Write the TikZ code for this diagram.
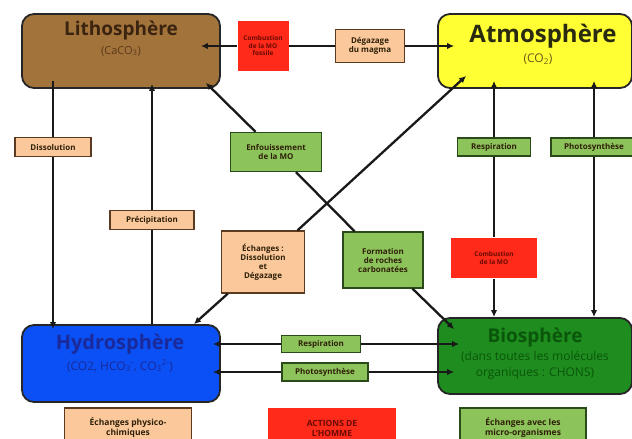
\documentclass[tikz,border=0pt]{standalone}
\usepackage{fontspec}
\setmainfont{Open Sans}
\usetikzlibrary{calc,arrows.meta}

\definecolor{lithofill}{HTML}{A3733C}
\definecolor{lithotext}{HTML}{3A2410}
\definecolor{lithosub}{HTML}{5A3A18}
\definecolor{atmofill}{HTML}{FFFF33}
\definecolor{atmotext}{HTML}{2A2A10}
\definecolor{atmosub}{HTML}{6A5A18}
\definecolor{hydrofill}{HTML}{0A50F5}
\definecolor{hydrotext}{HTML}{1A2A9A}
\definecolor{biofill}{HTML}{1E8C1E}
\definecolor{biotext}{HTML}{0A560A}
\definecolor{redfill}{HTML}{FF2A1A}
\definecolor{redtext}{HTML}{6A0A00}
\definecolor{orangefill}{HTML}{FBC89C}
\definecolor{orangeline}{HTML}{5A3A20}
\definecolor{greenfill}{HTML}{8DC35B}
\definecolor{greenline}{HTML}{2A4A1A}
\definecolor{lbltext}{HTML}{2E2008}

\tikzset{
  sphere/.style={draw=black!85, line width=1.8pt, rounded corners=12pt,
    minimum width=198pt, minimum height=74pt, inner sep=0pt},
  lbl/.style={line width=1.3pt, align=center, inner sep=1pt, text=lbltext,
    font=\fontsize{8}{9}\selectfont\bfseries},
  orangelbl/.style={lbl, fill=orangefill, draw=orangeline},
  greenlbl/.style={lbl, fill=greenfill, draw=greenline},
  redlbl/.style={lbl, fill=redfill, text=redtext,
    font=\fontsize{6.5}{7.5}\selectfont\bfseries},
  bottomtxt/.style={font=\fontsize{8.5}{10}\selectfont\bfseries},
  flux/.style={line width=2.3pt, draw=black!90},
  arr/.style={-{Latex[length=7pt,width=6.5pt]}}
}

\begin{document}
\begin{tikzpicture}[x=1pt,y=-1pt]
\useasboundingbox (0,0) rectangle (632,439);
\clip (0,0) rectangle (632,439);

% reservoirs
\node [sphere, fill=lithofill] (litho) at (121,51) {};
\node [sphere, fill=atmofill, minimum width=194pt] (atmo) at (535,51) {};
\node [sphere, fill=hydrofill, minimum height=77pt] (hydro) at (121,363.5) {};
\node [sphere, fill=biofill, minimum width=194pt, minimum height=76pt] (bio) at (535,356) {};

\node [font=\fontsize{19}{21}\selectfont\bfseries, text=lithotext] (lithoT) at (121,31) {Lithosphère};
\node [font=\fontsize{11}{12}\selectfont, text=lithosub] (lithoS) at (121,51) {(CaCO\textsubscript{3})};
\node [font=\fontsize{24}{26}\selectfont\bfseries, text=atmotext] (atmoT) at (543,36) {Atmosphère};
\node [font=\fontsize{12}{13}\selectfont, text=atmosub] (atmoS) at (538,59) {(CO\textsubscript{2})};
\node [font=\fontsize{20}{22}\selectfont\bfseries, text=hydrotext] (hydroT) at (120,344) {Hydrosphère};
\node [font=\fontsize{12}{13}\selectfont, text=hydrotext] (hydroS) at (120,366)
  {(CO2, HCO\textsubscript{3}\textsuperscript{-}, CO\textsubscript{3}\textsuperscript{2-})};
\node [font=\fontsize{19}{21}\selectfont\bfseries, text=biotext] (bioT) at (535,338) {Biosphère};
\node [font=\fontsize{12}{16}\selectfont, text=biotext, align=center] (bioS) at (535,365)
  {(dans toutes les molécules\\organiques : CHONS)};

% flux labels
\node [redlbl, minimum width=51pt, minimum height=50pt] (comb1) at (263,46) {Combustion\\de la MO\\fossile};
\node [orangelbl, minimum width=69pt, minimum height=33pt] (degaz) at (370,46) {Dégazage\\du magma};
\node [orangelbl, minimum width=76pt, minimum height=19pt] (dissol) at (53,147) {Dissolution};
\node [orangelbl, minimum width=84pt, minimum height=19pt] (precip) at (152,220) {Précipitation};
\node [greenlbl, minimum width=91pt, minimum height=39pt] (enfouis) at (276,152) {Enfouissement\\de la MO};
\node [orangelbl, minimum width=83pt, minimum height=62pt] (echdis) at (263,262) {Échanges :\\Dissolution\\et\\Dégazage};
\node [greenlbl, minimum width=80pt, minimum height=56pt] (formation) at (383,260) {Formation\\de roches\\carbonatées};
\node [greenlbl, minimum width=73pt, minimum height=18pt] (resp1) at (494,147) {Respiration};
\node [greenlbl, minimum width=86pt, minimum height=18pt] (photo1) at (594,147) {Photosynthèse};
\node [redlbl, minimum width=86pt, minimum height=40pt] (comb2) at (494,258) {Combustion\\de la MO};
\node [greenlbl, minimum width=79pt, minimum height=17pt] (resp2) at (321,344) {Respiration};
\node [greenlbl, minimum width=86pt, minimum height=18pt] (photo2) at (325,372) {Photosynthèse};

% bottom legend
\node [orangelbl, bottomtxt, minimum width=127pt, minimum height=40pt] (ephys) at (128,428) {Échanges physico-\\chimiques};
\node [redlbl, bottomtxt, text=redtext, minimum width=128pt, minimum height=40pt] (actions) at (332,428) {ACTIONS DE\\L'HOMME};
\node [greenlbl, bottomtxt, minimum width=126pt, minimum height=40pt] (emicro) at (523,428) {Échanges avec les\\micro-organismes};

% free ends inside the reservoirs
\coordinate (lithoIn) at ($(litho.south east)+(-15,-6)$);
\coordinate (bioIn) at ($(bio.north west)+(17,12)$);
\coordinate (hydroIn) at ($(hydro.north east)+(-27,0)$);
\coordinate (atmoIn) at ($(atmo.south west)+(29,-13)$);

% lithosphere - atmosphere
\draw [flux, arr, shorten >=-20pt] (comb1) -- (litho.east |- comb1);
\draw [flux] (comb1) -- (degaz);
\draw [flux, arr, shorten >=-17pt] (degaz) -- (atmo.west |- degaz);

% lithosphere - hydrosphere
\draw [flux, shorten >=-8pt] (dissol) -- (litho.south -| dissol);
\draw [flux, arr, shorten >=-5pt] (dissol) -- (hydro.north -| dissol);
\draw [flux] (precip) -- (hydro.north -| precip);
\draw [flux, arr, shorten >=-5pt] (precip) -- (litho.south -| precip);

% atmosphere - biosphere
\draw [flux, arr, shorten >=-8pt] (resp1) -- (atmo.south -| resp1);
\draw [flux] (resp1) -- (comb2);
\draw [flux, arr] (comb2) -- (bio.north -| comb2);
\draw [flux, arr, shorten >=-8pt] (photo1) -- (atmo.south -| photo1);
\draw [flux, arr] (photo1) -- (bio.north -| photo1);

% diagonals
\draw [flux, arr] (enfouis) -- (lithoIn);
\draw [flux] (enfouis) -- (formation);
\draw [flux, arr] (formation) -- (bioIn);
\draw [flux, arr] (echdis) -- (hydroIn);
\draw [flux, arr] (echdis) -- (atmoIn);

% hydrosphere - biosphere
\draw [flux, arr, shorten >=-8pt] (resp2) -- (hydro.east |- resp2);
\draw [flux, arr, shorten >=-22pt] (resp2) -- (bio.west |- resp2);
\draw [flux, arr, shorten >=-8pt] (photo2) -- (hydro.east |- photo2);
\draw [flux, arr, shorten >=-17pt] (photo2) -- (bio.west |- photo2);
\end{tikzpicture}
\end{document}
